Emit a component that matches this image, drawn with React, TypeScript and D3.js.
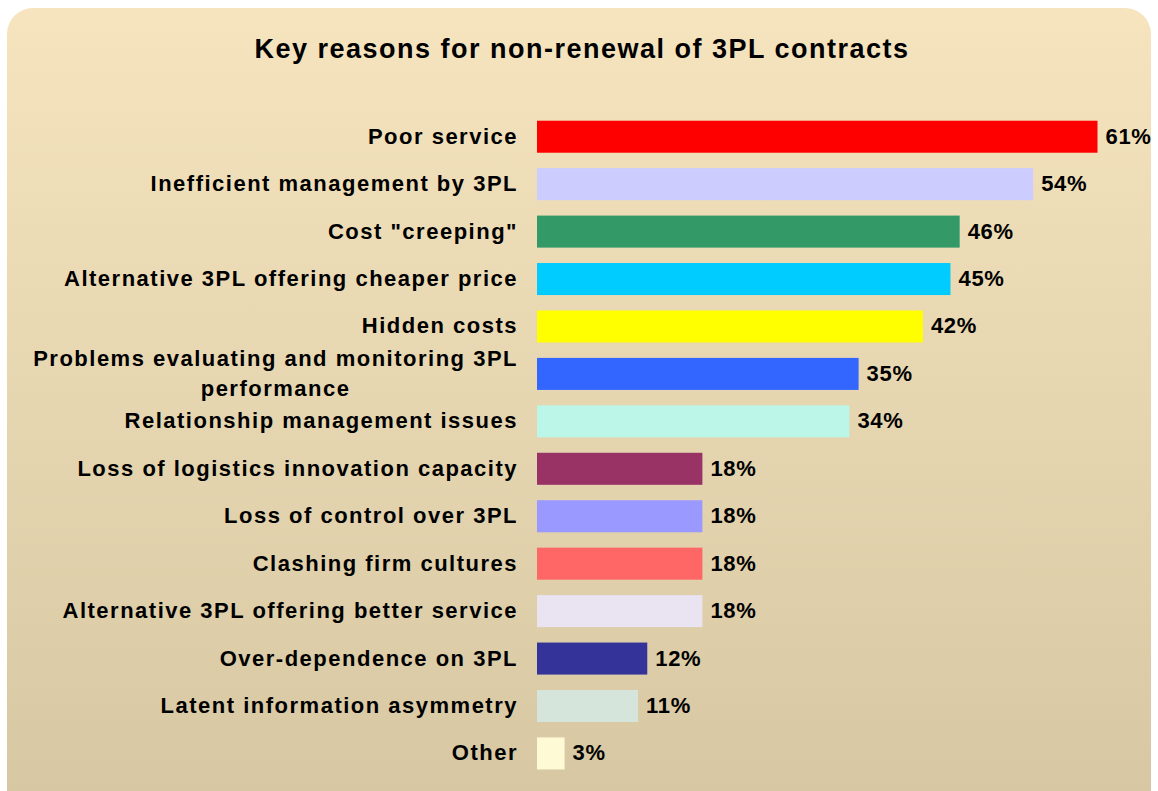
import { useRef, useEffect } from "react";
import * as d3 from "d3";

const reasons = [
  "Poor service",
  "Inefficient management by 3PL",
  'Cost "creeping"',
  "Alternative 3PL offering cheaper price",
  "Hidden costs",
  "Problems evaluating and monitoring 3PL|performance",
  "Relationship management issues",
  "Loss of logistics innovation capacity",
  "Loss of control over 3PL",
  "Clashing firm cultures",
  "Alternative 3PL offering better service",
  "Over-dependence on 3PL",
  "Latent information asymmetry",
  "Other",
];
const shares = [61, 54, 46, 45, 42, 35, 34, 18, 18, 18, 18, 12, 11, 3];
const barColors = [
  "#ff0000", "#ccccff", "#339966", "#00ccff", "#ffff00", "#3366ff", "#bbf6e8",
  "#993366", "#9999ff", "#ff6666", "#eae4f2", "#333399", "#d5e5dc", "#fffad6",
];

export default function App() {
  const svgRef = useRef<SVGSVGElement | null>(null);

  useEffect(() => {
    if (!svgRef.current) return;
    const svg = d3.select(svgRef.current);
    svg.selectAll("*").remove();

    const font = "'Liberation Sans', Arial, sans-serif";
    const labelStyle = (t: d3.Selection<SVGTextElement, any, any, any>) =>
      t
        .style("font-family", font)
        .style("font-weight", "bold")
        .style("font-size", "22px")
        .style("letter-spacing", "1.5px");

    const grad = svg
      .append("defs")
      .append("linearGradient")
      .attr("id", "bg")
      .attr("x1", 0).attr("y1", 0).attr("x2", 0).attr("y2", 1);
    grad.append("stop").attr("offset", "0%").attr("stop-color", "#f5e4be");
    grad.append("stop").attr("offset", "100%").attr("stop-color", "#d6c7a2");

    svg
      .append("rect")
      .attr("x", 7).attr("y", 8)
      .attr("width", 1144).attr("height", 810)
      .attr("rx", 26)
      .attr("fill", "url(#bg)");

    svg
      .append("text")
      .attr("x", 582).attr("y", 58)
      .attr("text-anchor", "middle")
      .style("font-family", font)
      .style("font-weight", "bold")
      .style("font-size", "27px")
      .style("letter-spacing", "1.5px")
      .text("Key reasons for non-renewal of 3PL contracts");

    const x = d3.scaleLinear().domain([0, 61]).range([537, 1097.5]);
    const y = d3
      .scaleBand<number>()
      .domain(d3.range(reasons.length))
      .range([113, 113 + 47.44 * reasons.length])
      .paddingInner(0.325)
      .paddingOuter(0.1625);

    const rows = svg
      .append("g")
      .selectAll("g")
      .data(reasons.map((r, i) => ({ label: r, value: shares[i], color: barColors[i], i })))
      .join("g");

    rows
      .append("rect")
      .attr("x", x(0))
      .attr("y", (d) => y(d.i)!)
      .attr("width", (d) => x(d.value) - x(0))
      .attr("height", y.bandwidth())
      .attr("fill", (d) => d.color);

    rows
      .append("text")
      .attr("x", (d) => x(d.value) + 8)
      .attr("y", (d) => y(d.i)! + y.bandwidth() / 2 + 7)
      .call(labelStyle as any)
      .style("letter-spacing", "0.7px")
      .text((d) => `${d.value}%`);

    rows.each(function (d) {
      const g = d3.select(this);
      const lines = d.label.split("|");
      const cy = y(d.i)! + y.bandwidth() / 2;
      if (lines.length === 1) {
        g.append("text")
          .attr("x", 518)
          .attr("y", cy + 7)
          .attr("text-anchor", "end")
          .call(labelStyle as any)
          .text(lines[0]);
      } else {
        const first = g
          .append("text")
          .attr("x", 518)
          .attr("y", cy - 8)
          .attr("text-anchor", "end")
          .call(labelStyle as any)
          .text(lines[0]);
        const w = (first.node() as SVGTextElement).getComputedTextLength();
        g.append("text")
          .attr("x", 518 - w / 2)
          .attr("y", cy + 22)
          .attr("text-anchor", "middle")
          .call(labelStyle as any)
          .text(lines[1]);
      }
    });
  }, []);

  return (
    <div style={{ position: "absolute", left: 0, top: 0, width: 1158, height: 791, background: "#fff" }}>
      <svg ref={svgRef} width={1158} height={791} viewBox="0 0 1158 791" style={{ display: "block" }}></svg>
    </div>
  );
}
